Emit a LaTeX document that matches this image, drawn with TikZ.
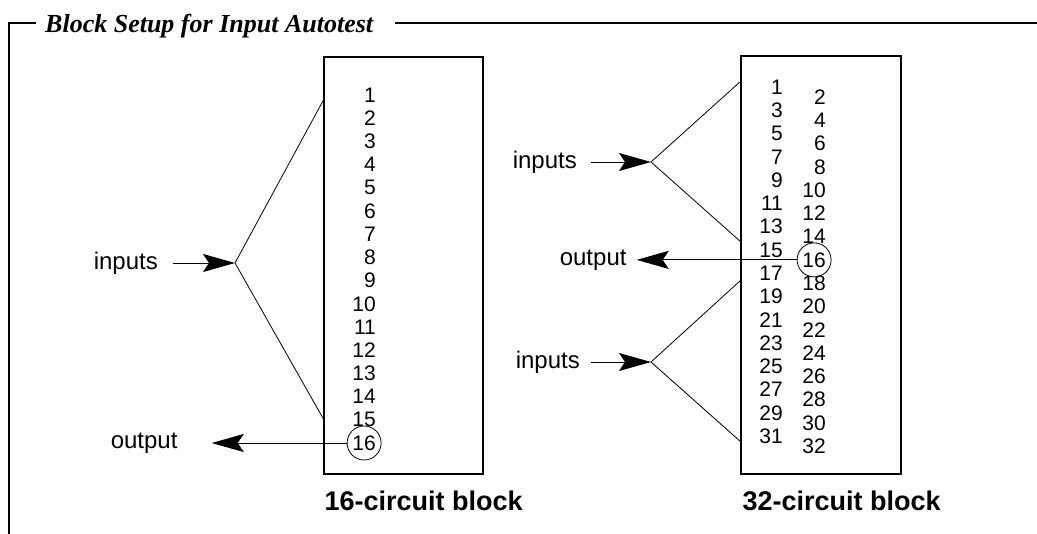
\documentclass[tikz,border=0pt]{standalone}
\usepackage{fontspec}
\setmainfont{Liberation Serif}
\newfontfamily\arialfont{Liberation Sans}
\usetikzlibrary{arrows.meta,positioning}

\tikzset{
  pinnum/.style={font=\arialfont\fontsize{21}{22}\selectfont, inner sep=0pt, anchor=east},
  sidelabel/.style={font=\arialfont\fontsize{24}{26}\selectfont, inner sep=0pt},
  blocklabel/.style={font=\arialfont\bfseries\fontsize{27}{29}\selectfont, inner sep=0pt},
  blockbox/.style={draw, line width=1.4pt},
  pinring/.style={draw, circle, line width=0.8pt, minimum size=34pt, inner sep=0pt},
  feed/.style={-{Stealth[length=32pt,width=18pt,inset=6pt]}, line width=0.9pt},
  fanline/.style={line width=0.8pt},
  framing/.style={line width=1.2pt}
}

\begin{document}
\begin{tikzpicture}[x=1pt,y=-1pt]
  \useasboundingbox (0,0) rectangle (1037,534);
  % frame and title
  \node[font=\bfseries\itshape\fontsize{26}{28}\selectfont, inner sep=0pt, anchor=base west] (title) at (45,33) {Block Setup for Input Autotest};
  \draw[framing] (36,23) -- (9,23) -- (9,534);
  \draw[framing] (395,23) -- (1037,23);

  % 16-circuit block
  \node[blockbox, minimum width=159pt, minimum height=417pt] (boxL) at (403.5,265.5) {};
  \foreach \n in {1,...,16}
    \node[pinnum] (l\n) at (376,{95+23.2*(\n-1)}) {\n};
  \node[pinring] (ringL) at (l16) {};
  \node[blocklabel, below right=16pt and 1pt of boxL.south west] (capL) {16-circuit block};
  % inputs fan
  \coordinate (fanL) at (235,263);
  \coordinate (pinTopL) at (324,99);
  \coordinate (pinBotL) at (324,420);
  \node[sidelabel, anchor=east] (inL) at (158,263) {inputs};
  \draw[feed, shorten <=15pt] (inL) -- (fanL);
  \draw[fanline] (pinTopL) -- (fanL) -- (pinBotL);
  % output
  \coordinate (tipL) at ([xshift=-135pt]ringL.west);
  \node[sidelabel, left=34pt of tipL] (outL) {output};
  \draw[feed] (ringL.west) -- (tipL);

  % 32-circuit block
  \node[blockbox, minimum width=160pt, minimum height=418pt] (boxR) at (821,265) {};
  \foreach \k in {1,...,16} {
    \pgfmathtruncatemacro\odd{2*\k-1}
    \pgfmathtruncatemacro\even{2*\k}
    \node[pinnum] (r\odd) at (783,{87+23.27*(\k-1)}) {\odd};
    \node[pinnum] (r\even) at (826,{97+23.27*(\k-1)}) {\even};
  }
  \node[pinring] (ringR) at (r16) {};
  \node[blocklabel, below right=16pt and 2pt of boxR.south west] (capR) {32-circuit block};
  % upper inputs fan
  \coordinate (fanRt) at (651,162);
  \coordinate (pinTopRt) at (741,81);
  \coordinate (pinBotRt) at (741,242);
  \node[sidelabel, anchor=east] (inRt) at (577,162) {inputs};
  \draw[feed, shorten <=14pt] (inRt) -- (fanRt);
  \draw[fanline] (pinTopRt) -- (fanRt) -- (pinBotRt);
  % lower inputs fan
  \coordinate (fanRb) at (651,362);
  \coordinate (pinTopRb) at (741,280);
  \coordinate (pinBotRb) at (741,442);
  \node[sidelabel, anchor=east] (inRb) at (580,362) {inputs};
  \draw[feed, shorten <=11pt] (inRb) -- (fanRb);
  \draw[fanline] (pinTopRb) -- (fanRb) -- (pinBotRb);
  % output
  \coordinate (tipR) at ([xshift=-160pt]ringR.west);
  \node[sidelabel, left=10pt of tipR] (outR) {output};
  \draw[feed] (ringR.west) -- (tipR);
\end{tikzpicture}
\end{document}
